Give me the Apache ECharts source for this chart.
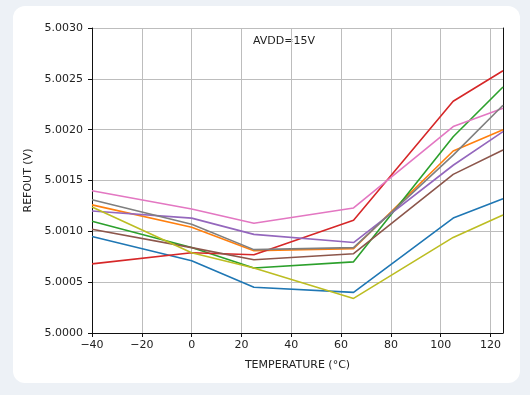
<!DOCTYPE html>
<html>
<head>
<meta charset="utf-8">
<script src="https://cdn.jsdelivr.net/npm/echarts@6/dist/echarts.min.js"></script>
<style>
html,body{margin:0;padding:0;width:530px;height:395px;background:#edf1f6;overflow:hidden;}
#card{position:absolute;left:13px;top:6px;width:507px;height:377px;background:#fff;border-radius:12px;}
#chart{position:absolute;left:0;top:0;width:530px;height:395px;}
</style>
</head>
<body>
<div id="card"></div>
<div id="chart"></div>
<script>
const temps = [-40, 0, 25, 65, 105, 125];
const xTicks = [-40, -20, 0, 20, 40, 60, 80, 100, 120];
const yTicks = [5.0000, 5.0005, 5.0010, 5.0015, 5.0020, 5.0025, 5.0030];
const blue   = [5.00095, 5.00071, 5.00045, 5.00040, 5.00113, 5.00132];
const orange = [5.00126, 5.00104, 5.00081, 5.00083, 5.00179, 5.00200];
const green  = [5.00110, 5.00084, 5.00064, 5.00070, 5.00193, 5.00242];
const red    = [5.00068, 5.00079, 5.00077, 5.00111, 5.00228, 5.00258];
const purple = [5.00120, 5.00113, 5.00097, 5.00089, 5.00165, 5.00198];
const brown  = [5.00102, 5.00084, 5.00072, 5.00078, 5.00156, 5.00180];
const pink   = [5.00140, 5.00122, 5.00108, 5.00123, 5.00203, 5.00221];
const gray   = [5.00131, 5.00107, 5.00082, 5.00084, 5.00175, 5.00224];
const olive  = [5.00124, 5.00079, 5.00064, 5.00034, 5.00094, 5.00116];
const seriesList = [
  ['#1f77b4', blue], ['#ff7f0e', orange], ['#2ca02c', green], ['#d62728', red],
  ['#9467bd', purple], ['#8c564b', brown], ['#e377c2', pink], ['#7f7f7f', gray], ['#bcbd22', olive]
];
const font = 'DejaVu Sans';
const chart = echarts.init(document.getElementById('chart'), null, {renderer: 'canvas'});
chart.setOption({
  animation: false,
  backgroundColor: 'transparent',
  grid: {left: 92, right: 27, top: 28, bottom: 62, containLabel: false},
  graphic: [{
    type: 'text', left: 253, top: 36,
    style: {text: 'AVDD=15V', font: '11px "DejaVu Sans"', fill: '#222'}
  }],
  xAxis: {
    type: 'value', min: -40, max: 125, interval: 20,
    name: 'TEMPERATURE (°C)', nameLocation: 'middle', nameGap: 27,
    nameTextStyle: {fontFamily: font, fontSize: 11, color: '#222'},
    axisLine: {show: true, onZero: false, lineStyle: {color: '#111', width: 1}},
    axisTick: {show: true, inside: false, length: 4, lineStyle: {color: '#111'},
      customValues: xTicks},
    axisLabel: {fontFamily: font, fontSize: 11, color: '#222', margin: 7,
      customValues: xTicks,
      formatter: v => (v < 0 ? '\u2212' + Math.abs(v) : String(v))},
    splitLine: {show: true, lineStyle: {color: '#bdbdbd', width: 1}}
  },
  yAxis: [{
    type: 'value', min: 5.0, max: 5.003, interval: 0.0005,
    name: 'REFOUT (V)', nameLocation: 'middle', nameGap: 53, nameRotate: 90,
    nameTextStyle: {fontFamily: font, fontSize: 11, color: '#222'},
    axisLine: {show: true, onZero: false, lineStyle: {color: '#111', width: 1}},
    axisTick: {show: true, inside: false, length: 4, lineStyle: {color: '#111'}},
    axisLabel: {fontFamily: font, fontSize: 11, color: '#222', margin: 9,
      customValues: yTicks,
      formatter: v => v.toFixed(4)},
    splitLine: {show: true, lineStyle: {color: '#bdbdbd', width: 1}}
  }, {
    type: 'value', min: 5.0, max: 5.003, position: 'right',
    axisLine: {show: true, onZero: false, lineStyle: {color: '#111', width: 1}},
    axisTick: {show: false}, axisLabel: {show: false}, splitLine: {show: false}
  }],
  series: seriesList.map(([c, vals]) => ({
    type: 'line', yAxisIndex: 0,
    data: temps.map((t, i) => [t, vals[i]]),
    showSymbol: false, symbol: 'none',
    lineStyle: {color: c, width: 1.6},
    itemStyle: {color: c}
  }))
});
</script>
</body>
</html>
